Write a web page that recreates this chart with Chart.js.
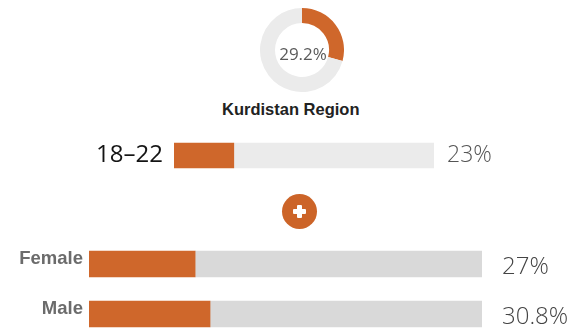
<!DOCTYPE html>
<html>
<head>
<meta charset="utf-8">
<script src="https://cdn.jsdelivr.net/npm/chart.js@4"></script>
<style>
    html, body { margin: 0; padding: 0; background: #fff; }
    body { width: 576px; height: 329px; position: relative; overflow: hidden; }
    canvas { position: absolute; }
    #title {
        position: absolute; left: 222px; top: 100px;
        font: bold 16.5px "Liberation Sans", Arial, sans-serif; color: #222;
        white-space: nowrap;
    }
    #plus {
        position: absolute; left: 282px; top: 194px; width: 35px; height: 35px;
        border-radius: 50%; background: #cc6428;
    }
    #plus:before, #plus:after {
        content: ""; position: absolute; background: #fff; border-radius: 1px;
    }
    #plus:before { left: 11px; top: 15px; width: 13px; height: 5px; }
    #plus:after { left: 15px; top: 11px; width: 5px; height: 13px; }
</style>
</head>
<body>
<canvas id="ringCanvas" style="left:260px;top:8px;"></canvas>
<div id="title">Kurdistan Region</div>
<canvas id="ageCanvas" style="left:0;top:130px;"></canvas>
<div id="plus"></div>
<canvas id="sexCanvas" style="left:0;top:239px;"></canvas>

<script>
//資料
var regionName = "Kurdistan Region";
var regionValue = 29.2;

var ageLabels = ["18–22"];
var ageValues = [23];

var sexLabels = ["Female", "Male"];
var sexValues = [27, 30.8];

var orange = "#cf672b";

Chart.defaults.animation = false;
Chart.defaults.events = [];

/**
 * category label at left of bar, percent text at right of bar
 */
var barLabels = {
    id: "barLabels",
    afterDatasetsDraw: function (chart, args, opts) {
        var ctx = chart.ctx;
        var area = chart.chartArea;
        var meta = chart.getDatasetMeta(0);
        var labels = chart.data.labels;
        var values = chart.data.datasets[0].data;
        ctx.save();
        ctx.textBaseline = "middle";
        for (var i = 0; i < meta.data.length; i++) {
            var y = meta.data[i].y;
            ctx.font = opts.labelFont;
            ctx.fillStyle = opts.labelColor;
            ctx.textAlign = "right";
            ctx.fillText(labels[i], area.left - opts.labelGap, y + opts.labelDy);
            ctx.font = opts.valueFont;
            ctx.fillStyle = opts.valueColor;
            ctx.textAlign = "left";
            ctx.fillText(values[i] + "%", area.right + opts.valueGap, y + opts.valueDy);
        }
        ctx.restore();
    }
};

//percent in the middle of the ring
var ringText = {
    id: "ringText",
    afterDatasetsDraw: function (chart) {
        var arc = chart.getDatasetMeta(0).data[0];
        var ctx = chart.ctx;
        ctx.save();
        ctx.font = '17px "Open Sans", sans-serif';
        ctx.fillStyle = "#5a5a5a";
        ctx.textAlign = "center";
        ctx.textBaseline = "middle";
        ctx.fillText(chart.data.datasets[0].data[0] + "%", arc.x + 1, arc.y + 5);
        ctx.restore();
    }
};

function hBar(canvasId, labels, values, track, padLeft, padRight, thick, labelOpts) {
    var rest = values.map(function (v) { return 100 - v; });
    return new Chart(document.getElementById(canvasId), {
        type: "bar",
        data: {
            labels: labels,
            datasets: [
                { data: values, backgroundColor: orange, barThickness: thick },
                { data: rest, backgroundColor: track, barThickness: thick }
            ]
        },
        options: {
            indexAxis: "y",
            responsive: false,
            layout: { padding: { left: padLeft, right: padRight, top: 0, bottom: 0 } },
            scales: {
                x: { stacked: true, min: 0, max: 100, display: false },
                y: { stacked: true, display: false }
            },
            plugins: {
                legend: { display: false },
                tooltip: { enabled: false },
                barLabels: labelOpts
            }
        },
        plugins: [barLabels]
    });
}

//ring
var ring = document.getElementById("ringCanvas");
ring.width = 84; ring.height = 84;
new Chart(ring, {
    type: "doughnut",
    data: {
        labels: [regionName, ""],
        datasets: [{
            data: [regionValue, 100 - regionValue],
            backgroundColor: [orange, "#ebebeb"],
            borderWidth: 0,
            hoverOffset: 0
        }]
    },
    options: {
        responsive: false,
        radius: 42,
        cutout: 27,
        plugins: { legend: { display: false }, tooltip: { enabled: false } }
    },
    plugins: [ringText]
});

//age group
var age = document.getElementById("ageCanvas");
age.width = 576; age.height = 51;
hBar("ageCanvas", ageLabels, ageValues, "#ebebeb", 174, 142, 25, {
    labelFont: '24px "Open Sans", sans-serif',
    labelColor: "#141414",
    labelGap: 11,
    labelDy: 0,
    valueFont: '300 23px "Open Sans", sans-serif',
    valueColor: "#555",
    valueGap: 13,
    valueDy: 0
});

//gender
var sex = document.getElementById("sexCanvas");
sex.width = 576; sex.height = 100;
hBar("sexCanvas", sexLabels, sexValues, "#d9d9d9", 89, 94, 26, {
    labelFont: 'bold 18.5px "Liberation Sans", Arial, sans-serif',
    labelColor: "#6b6b6b",
    labelGap: 6,
    labelDy: -5,
    valueFont: '300 24px "Open Sans", sans-serif',
    valueColor: "#444",
    valueGap: 20,
    valueDy: 3
});
</script>
</body>
</html>
